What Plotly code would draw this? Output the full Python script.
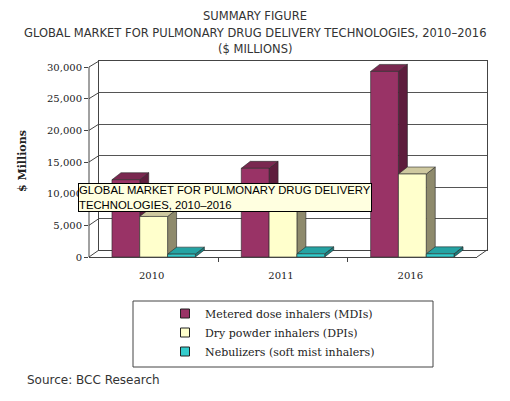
import plotly.graph_objects as go

# data ($ millions)
years = ["2010", "2011", "2016"]
series = ["Metered dose inhalers (MDIs)", "Dry powder inhalers (DPIs)",
          "Nebulizers (soft mist inhalers)"]
mdi = [12200, 14000, 29300]
dpi = [6400, 7500, 13100]
neb = [450, 500, 500]
y_ticks = [0, 5000, 10000, 15000, 20000, 25000, 30000]
y_ticktext = ["0", "5,000", "10,000", "15,000", "20,000", "25,000", "30,000"]

front_colors = ["#993366", "#FFFFCC", "#33CCCC"]
side_colors = ["#5E1D3D", "#8E8A6C", "#1C7F7F"]
top_colors = ["#7A2850", "#CFC9A0", "#25A3A3"]

# page geometry (pixels, as measured on the reference page)
OFF = 8                          # body margin of the html page
W, H = 510 - OFF, 401 - OFF
ML, MR, MT, MB = 89 - OFF, 23, 61 - OFF, 144
PW, PH = W - ML - MR, H - MT - MB
FRONT_W, FRONT_H = 388, 190     # front face of the box
WALL_DX, WALL_DY = 10, 7        # how far the back wall sits behind
YMAX = 30000
YTOP = YMAX * PH / FRONT_H      # front axis range so bar tops are not clipped

BAR_W = 0.215
DX = 9 / (FRONT_W / 3)          # bar depth in x units
DY = 7 * YTOP / PH              # bar depth in y units


def px_x(p):
    return (p - OFF - ML) / PW


def px_y(p):
    return (H - MB - (p - OFF)) / PH


def faces(values, s):
    fx, fy, sx, sy, tx, ty = [], [], [], [], [], []
    for j, v in enumerate(values):
        x0 = j - 1.5 * BAR_W + s * BAR_W
        x1 = x0 + BAR_W
        fx += [x0, x1, x1, x0, x0, None]
        fy += [0, 0, v, v, 0, None]
        sx += [x1, x1 + DX, x1 + DX, x1, x1, None]
        sy += [0, DY, v + DY, v, 0, None]
        tx += [x0, x0 + DX, x1 + DX, x1, x0, None]
        ty += [v, v + DY, v + DY, v, v, None]
    return (fx, fy), (sx, sy), (tx, ty)


fig = go.Figure()

all_faces = [faces(vals, s) for s, vals in enumerate([mdi, dpi, neb])]
edge = dict(color="rgba(40,40,40,0.85)", width=0.7)

# depth faces first, front faces on top of them
for s, (front, side, top) in enumerate(all_faces):
    fig.add_trace(go.Scatter(x=side[0], y=side[1], fill="toself", mode="lines",
                             fillcolor=side_colors[s], line=edge,
                             xaxis="x2", yaxis="y2", showlegend=False, hoverinfo="skip"))
    fig.add_trace(go.Scatter(x=top[0], y=top[1], fill="toself", mode="lines",
                             fillcolor=top_colors[s], line=edge,
                             xaxis="x2", yaxis="y2", showlegend=False, hoverinfo="skip"))
for s, (front, side, top) in enumerate(all_faces):
    fig.add_trace(go.Scatter(x=front[0], y=front[1], fill="toself", mode="lines",
                             fillcolor=front_colors[s], line=edge,
                             xaxis="x2", yaxis="y2", showlegend=False, hoverinfo="skip"))

# legend entries (empty traces on the back-wall axes so that subplot gets drawn)
for s, name in enumerate(series):
    fig.add_trace(go.Scatter(x=[None], y=[None], mode="markers", name=name,
                             legendgroup=name,
                             marker=dict(symbol="square", size=9, color=front_colors[s],
                                         line=dict(color="#222", width=1)),
                             xaxis="x", yaxis="y"))

# slanted connectors from the front axis to the back wall, and the floor edge
shapes = []
for v in y_ticks:
    shapes.append(dict(type="line", xref="paper", yref="paper",
                       x0=0, y0=v / YTOP,
                       x1=WALL_DX / PW, y1=WALL_DY / PH + v / YMAX * (PH - WALL_DY) / PH,
                       line=dict(color="#444", width=1)))
shapes.append(dict(type="line", xref="paper", yref="paper",
                   x0=FRONT_W / PW, y0=0, x1=1, y1=WALL_DY / PH,
                   line=dict(color="#444", width=1)))
shapes.append(dict(type="line", xref="x2 domain", yref="y2",
                   x0=0, x1=0, y0=0, y1=YMAX, line=dict(color="#444", width=1)))
# legend frame
shapes.append(dict(type="rect", xref="paper", yref="paper",
                   x0=px_x(133), x1=px_x(433), y0=px_y(367), y1=px_y(301),
                   line=dict(color="#444", width=1)))

title_font = dict(family="DejaVu Sans", size=11.5, color="#333")
annotations = [
    dict(text="SUMMARY FIGURE", x=px_x(255), y=px_y(16)),
    dict(text="GLOBAL MARKET FOR PULMONARY DRUG DELIVERY TECHNOLOGIES, 2010\u20132016",
         x=px_x(255), y=px_y(33)),
    dict(text="($ MILLIONS)", x=px_x(255), y=px_y(49)),
]
for a in annotations:
    a.update(xref="paper", yref="paper", showarrow=False, font=title_font,
             xanchor="center", yanchor="middle")
annotations.append(dict(text="Source: BCC Research", x=px_x(25), y=px_y(380),
                        xref="paper", yref="paper", showarrow=False,
                        xanchor="left", yanchor="middle",
                        font=dict(family="DejaVu Sans", size=12, color="#333")))
annotations.append(dict(text="<b>$ Millions</b>", x=px_x(22), y=px_y(161), textangle=-90,
                        xref="paper", yref="paper", showarrow=False,
                        xanchor="center", yanchor="middle",
                        font=dict(family="DejaVu Serif", size=11, color="#222")))
annotations.append(dict(text="GLOBAL MARKET FOR PULMONARY DRUG DELIVERY<br>"
                             "TECHNOLOGIES, 2010\u20132016",
                        x=px_x(78), y=px_y(183), xref="paper", yref="paper",
                        showarrow=False, xanchor="left", yanchor="top", align="left",
                        bgcolor="#FFFFE0", bordercolor="#000", borderwidth=1, borderpad=0,
                        font=dict(family="Liberation Sans", size=11.3, color="#000")))

tick_font = dict(family="DejaVu Serif", size=10, color="#222")

fig.update_layout(
    width=W, height=H,
    margin=dict(l=ML, r=MR, t=MT, b=MB),
    paper_bgcolor="white",
    plot_bgcolor="rgba(0,0,0,0)",
    showlegend=True,
    legend=dict(x=px_x(165), y=px_y(299), xanchor="left", yanchor="top",
                bgcolor="rgba(0,0,0,0)", borderwidth=0, traceorder="grouped",
                tracegroupgap=0, font=dict(family="DejaVu Serif", size=11, color="#222")),
    # back wall
    xaxis=dict(domain=[WALL_DX / PW, 1], anchor="y", range=[-0.5, 2.5], showgrid=False,
               zeroline=False, showticklabels=False, ticks="",
               showline=True, mirror=True, linecolor="#444", linewidth=1),
    yaxis=dict(domain=[WALL_DY / PH, 1], anchor="x", range=[0, YMAX], tickvals=y_ticks,
               showgrid=True, gridcolor="#555", gridwidth=1, zeroline=False,
               showticklabels=False, ticks="",
               showline=True, mirror=True, linecolor="#444", linewidth=1),
    # front face
    xaxis2=dict(domain=[0, FRONT_W / PW], anchor="y2", range=[-0.5, 2.5],
                tickvals=[0, 1, 2], ticktext=years, ticks="", ticklabelstandoff=9,
                ticklabelshift=-2, tickfont=tick_font, showgrid=False, zeroline=False,
                showline=True, linecolor="#444", linewidth=1,
                minor=dict(tickvals=[0.5, 1.5], ticks="outside", ticklen=4,
                           tickcolor="#444")),
    yaxis2=dict(domain=[0, 1], anchor="x2", range=[0, YTOP], tickvals=y_ticks,
                ticktext=y_ticktext, ticks="outside", ticklen=4, tickcolor="#444",
                tickfont=tick_font, showgrid=False, zeroline=False, showline=False),
    shapes=shapes,
    annotations=annotations,
)

fig.write_html("out.html")
